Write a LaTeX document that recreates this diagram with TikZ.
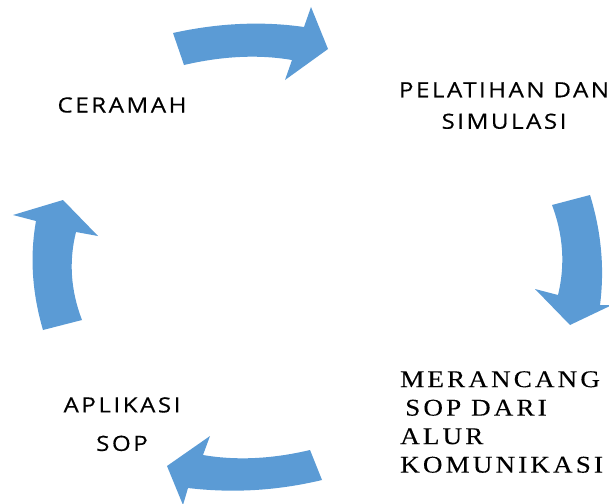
\documentclass[tikz,border=0pt]{standalone}
\usepackage{fontspec}
\setmainfont{Liberation Serif}[FakeStretch=1.13,LetterSpace=13,FakeBold=0.15]
\newfontfamily\labelsans{Open Sans}[FakeStretch=1.15,LetterSpace=12,FakeBold=0.4]
\usepackage{tikz}
\usepackage{xcolor}
\definecolor{arrowblue}{HTML}{5B9BD5}
\tikzset{
	cyclearrow/.style={fill=arrowblue,draw=none},
	sanslabel/.style={inner sep=0pt,align=center,font=\labelsans\fontsize{21}{38.5}\selectfont},
	seriflabel/.style={inner sep=0pt,align=left,font=\rmfamily\fontsize{24}{28.5}\selectfont}
}

\begin{document}
\begin{tikzpicture}[x=1pt,y=-1pt]
		\useasboundingbox (0,0) rectangle (609,503);
		% labels
		\node [sanslabel,anchor=base] (ceramah) at (122,112.5) {CERAMAH};
		\node [sanslabel,anchor=north,font=\labelsans\fontsize{21}{31.5}\selectfont] (pelatihan) at (504,82) {PELATIHAN DAN\\SIMULASI};
		\node [seriflabel,anchor=north west] (merancang) at (400,371) {MERANCANG\\\hspace*{5pt}SOP DARI\\ALUR\\KOMUNIKASI};
		\node [sanslabel,anchor=north] (aplikasi) at (122,397) {APLIKASI\\SOP};
		% arrows
		\fill [cyclearrow] (173,33) .. controls (218.3,23) and (262,21) .. (304,27) -- (311,7) -- (328,49) -- (285,80) -- (292,60) .. controls (258.7,54.3) and (222.7,56) .. (184,65) -- cycle;
		\fill [cyclearrow] (552,205) -- (590,195) .. controls (601.3,231.7) and (604.7,268.3) .. (600,305) -- (612,305) -- (570,325) -- (535,289) -- (558,295) .. controls (565.3,265) and (563.3,235) .. (552,205) -- cycle;
		\fill [cyclearrow] (322,480) .. controls (277.3,490.7) and (232.7,493.3) .. (188,488) -- (183,505) -- (167,466) -- (210,436) -- (203,455) .. controls (236.3,460.7) and (272,459) .. (310,450) -- cycle;
		\fill [cyclearrow] (43,330) -- (82,320) .. controls (70.7,290.7) and (68.7,261.3) .. (76,232) -- (98,236) -- (63,200) -- (13,215) -- (36,221) .. controls (29.7,256.3) and (32,292.7) .. (43,330) -- cycle;
	\end{tikzpicture}
\end{document}
